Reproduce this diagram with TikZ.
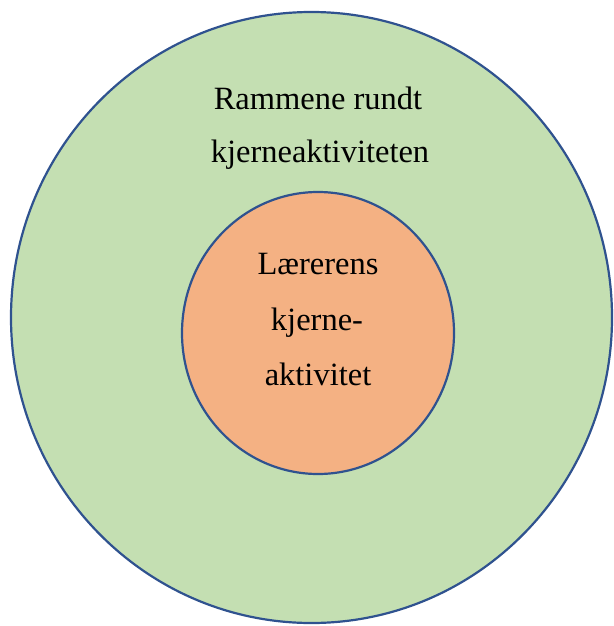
\documentclass[tikz,border=0pt]{standalone}
\usepackage{fontspec}
\setmainfont{Liberation Serif}
\usetikzlibrary{shapes.geometric}
\definecolor{ringgreen}{HTML}{C4DFB2}
\definecolor{coreorange}{HTML}{F4B183}
\definecolor{rimblue}{HTML}{2F528F}
\begin{document}
\begin{tikzpicture}[x=1pt,y=-1pt,
  disc/.style={ellipse, draw=rimblue, line width=2.2pt, inner sep=0pt},
  label/.style={anchor=base, inner sep=0pt, font=\fontsize{32.5}{40}\selectfont}]
  \useasboundingbox (0,0) rectangle (613,626);
  % outer ring and inner core
  \node[disc, fill=ringgreen, minimum width=601pt, minimum height=611pt] (outer) at (311.5,317.5) {};
  \node[disc, fill=coreorange, minimum width=272pt, minimum height=282pt] (core) at (318,333) {};
  % outer label
  \node[label] (o1) at (318,109) {Rammene rundt};
  \node[label] (o2) at (320,162) {kjerneaktiviteten};
  % inner label
  \node[label] (c1) at (318,274) {Lærerens};
  \node[label] (c2) at (317,330) {kjerne-};
  \node[label] (c3) at (318,385) {aktivitet};
\end{tikzpicture}
\end{document}
